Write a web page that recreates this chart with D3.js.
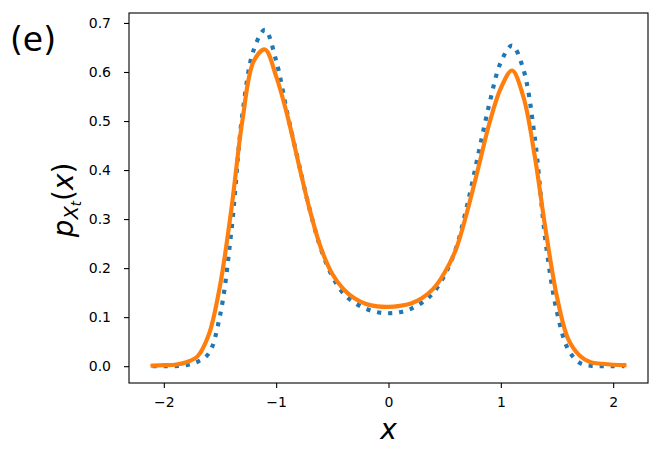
<!DOCTYPE html>
<html><head><meta charset="utf-8">
<script src="https://cdn.jsdelivr.net/npm/d3@7"></script>
<style>body{margin:0;background:#fff} svg{display:block}</style>
</head><body>
<svg id="c" width="661" height="454"></svg>
<script>
// ---- data ----
const xValues = [-2.1,-2.0,-1.9,-1.8,-1.7,-1.6,-1.5,-1.4,-1.3,-1.2,-1.1,-1.0,-0.9,-0.8,-0.7,-0.6,-0.5,-0.4,-0.3,-0.2,-0.1,0.0,0.1,0.2,0.3,0.4,0.5,0.6,0.7,0.8,0.9,1.0,1.1,1.2,1.3,1.4,1.5,1.6,1.7,1.8,1.9,2.0,2.1];
// blue dotted curve
const densityA = [0.000,0.000,0.000,0.002,0.009,0.026,0.103,0.273,0.515,0.645,0.686,0.623,0.515,0.415,0.318,0.238,0.183,0.148,0.129,0.117,0.110,0.108,0.110,0.117,0.130,0.150,0.186,0.240,0.328,0.433,0.537,0.620,0.654,0.606,0.470,0.251,0.110,0.034,0.007,0.001,0.000,0.000,0.000];
// orange solid curve
const densityB = [0.001,0.002,0.003,0.008,0.020,0.064,0.164,0.318,0.502,0.622,0.646,0.591,0.511,0.413,0.318,0.240,0.188,0.157,0.138,0.127,0.122,0.121,0.123,0.128,0.139,0.158,0.191,0.238,0.315,0.405,0.497,0.567,0.603,0.550,0.431,0.276,0.141,0.055,0.022,0.008,0.005,0.003,0.002];
const xTicks = [-2,-1,0,1,2];
const yTicks = [0.0,0.1,0.2,0.3,0.4,0.5,0.6,0.7];
const panelLabel = "(e)";

// ---- layout ----
const L = 129, R = 648, T = 13, B = 383;
const svg = d3.select("#c");
const font = "DejaVu Sans, sans-serif";

const xmin = d3.min(xValues), xmax = d3.max(xValues);
const xm = (xmax - xmin) * 0.05;
const x = d3.scaleLinear().domain([xmin - xm, xmax + xm]).range([L, R]);
const all = densityA.concat(densityB);
const ymin = d3.min(all), ymax = d3.max(all);
const ym = (ymax - ymin) * 0.05;
const y = d3.scaleLinear().domain([ymin - ym, ymax + ym]).range([B, T]);

const line = d3.line().x((d,i)=>x(xValues[i])).y(d=>y(d)).curve(d3.curveCatmullRom.alpha(0.5));

const g = svg.append("g");
g.append("path").attr("d", line(densityA))
  .attr("fill","none").attr("stroke","#1f77b4").attr("stroke-width",4.17)
  .attr("stroke-dasharray","4.17,6.88").attr("stroke-linecap","butt");
g.append("path").attr("d", line(densityB))
  .attr("fill","none").attr("stroke","#ff7f0e").attr("stroke-width",4.17)
  .attr("stroke-linecap","square").attr("stroke-linejoin","round");

// axes
const xa = svg.append("g").attr("transform",`translate(0,${B})`)
  .call(d3.axisBottom(x).tickValues(xTicks).tickFormat(d3.format("d")).tickSize(5).tickPadding(9.5));
const ya = svg.append("g").attr("transform",`translate(${L},0)`)
  .call(d3.axisLeft(y).tickValues(yTicks).tickFormat(d3.format(".1f")).tickSize(5).tickPadding(13));
[xa,ya].forEach(a=>{
  a.select(".domain").remove();
  a.selectAll("line").attr("stroke","#000").attr("stroke-width",1.1);
  a.selectAll("text").attr("font-family",font).attr("font-size",14).attr("fill","#000");
});

svg.append("rect").attr("x",L).attr("y",T).attr("width",R-L).attr("height",B-T)
  .attr("fill","none").attr("stroke","#000").attr("stroke-width",1.1);

// x label
svg.append("text").attr("x",(L+R)/2).attr("y",438.5).attr("text-anchor","middle")
  .attr("font-family",font).attr("font-style","italic").attr("font-size",28).text("x");

// y label  p_{X_t}(x)
const yl = svg.append("text").attr("transform","translate(72.5,200) rotate(-90)")
  .attr("text-anchor","middle").attr("font-family",font).attr("font-size",27.8);
yl.append("tspan").attr("font-style","italic").text("p");
yl.append("tspan").attr("font-style","italic").attr("font-size",19.5).attr("dy",5).text("X");
yl.append("tspan").attr("font-style","italic").attr("font-size",13.6).attr("dy",3.5).text("t");
yl.append("tspan").attr("dy",-8.5).text("(");
yl.append("tspan").attr("font-style","italic").text("x");
yl.append("tspan").text(")");

// panel label
svg.append("text").attr("x",10).attr("y",50.5).attr("font-family",font)
  .attr("font-size",33).text(panelLabel);
</script>
</body></html>
